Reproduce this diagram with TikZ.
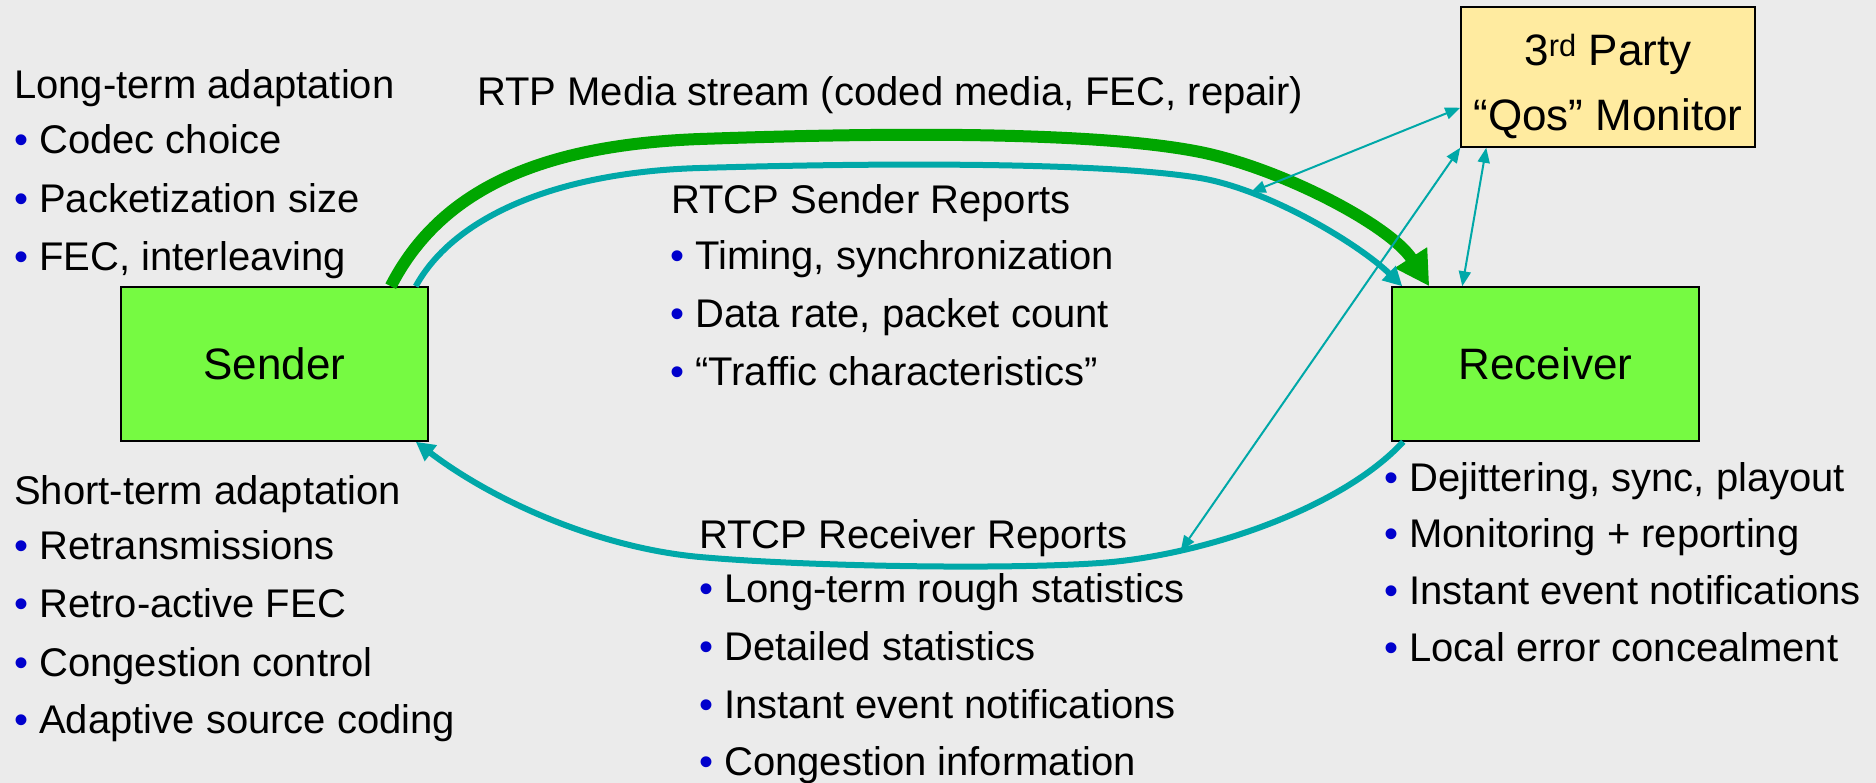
\documentclass[tikz,border=0pt]{standalone}
\usepackage{fontspec}
\setmainfont{Liberation Sans}
\usetikzlibrary{arrows.meta,calc}
\definecolor{bg}{RGB}{235,235,235}
\definecolor{boxgreen}{RGB}{118,250,66}
\definecolor{monyellow}{RGB}{255,235,160}
\definecolor{tealc}{RGB}{0,168,168}
\definecolor{arrowgreen}{RGB}{0,166,0}
\definecolor{bulblue}{RGB}{0,0,204}
\newcommand{\mybul}{\textcolor{bulblue}{•}}
\begin{document}
\begin{tikzpicture}[x=1pt,y=-1pt,
  txt/.style={anchor=base west,inner sep=0pt,font=\fontsize{40}{48}\selectfont},
  box/.style={draw=black,line width=1.5pt,fill=boxgreen,minimum width=307pt,minimum height=154pt,inner sep=0pt,font=\fontsize{44}{52}\selectfont},
  monbox/.style={draw=black,line width=1.5pt,fill=monyellow,minimum width=294pt,minimum height=140pt,inner sep=0pt,font=\fontsize{44}{65}\selectfont},
  greenarrow/.style={draw=arrowgreen,line width=12pt,-{Triangle[length=34pt,width=36pt]}},
  tealthick/.style={draw=tealc,line width=6pt,-{Triangle[length=19pt,width=19pt]}},
  thinarrow/.style={draw=tealc,line width=2pt,{Triangle[length=15pt,width=12pt]}-{Triangle[length=15pt,width=12pt]}}
]
\fill[bg] (0,0) rectangle (1876,783);
\useasboundingbox (0,0) rectangle (1876,783);

% boxes
\node[box] (sender) at (274.5,364) {Sender};
\node[box] (receiver) at (1545.5,364) {Receiver};
\node[monbox] (mon) at (1608,77) {\raisebox{-8pt}[\height][\depth]{\begin{tabular}{@{}c@{}}3\textsuperscript{rd} Party\\“Qos” Monitor\end{tabular}}};

% RTP media stream
\draw[greenarrow] ($(sender.north east)+(-38,0)$) .. controls (440,190) and (540,145) .. (700,139)
  .. controls (900,132) and (1100,132) .. (1200,152)
  .. controls (1280,168) and (1390,225) .. ($(receiver.north west)+(38,0)$);

% RTCP sender reports
\draw[tealthick] ($(sender.north east)+(-13,0)$) .. controls (455,215) and (560,172) .. (700,168)
  .. controls (900,162) and (1110,163) .. (1200,178)
  .. controls (1270,190) and (1360,245) .. ($(receiver.north west)+(11,0)$) coordinate[pos=0.23] (srpt);

% RTCP receiver reports
\draw[tealthick] ($(receiver.south west)+(12,0)$) .. controls (1340,510) and (1200,556) .. (1100,563) coordinate[pos=0.75] (rrpt)
  .. controls (1000,570) and (800,566) .. (700,557)
  .. controls (600,548) and (495,502) .. ($(sender.south east)+(-13,0)$);

% monitor links
\draw[thinarrow] (srpt) -- ($(mon.south west)+(0,-40)$);
\draw[thinarrow] (rrpt) -- (mon.south west);
\draw[thinarrow] ($(mon.south west)+(26,0)$) -- ($(receiver.north west)+(71,0)$);

% left top
\node[txt] (lt0) at (14,99) {Long-term adaptation};
\node[txt] (lt1) at (14,154) {\mybul{} Codec choice};
\node[txt] (lt2) at (14,213) {\mybul{} Packetization size};
\node[txt] (lt3) at (14,271) {\mybul{} FEC, interleaving};

% left bottom
\node[txt] (lb0) at (14,504) {Short-term adaptation};
\node[txt] (lb1) at (14,559) {\mybul{} Retransmissions};
\node[txt] (lb2) at (14,617) {\mybul{} Retro-active FEC};
\node[txt] (lb3) at (14,676) {\mybul{} Congestion control};
\node[txt] (lb4) at (14,733) {\mybul{} Adaptive source coding};

% middle top
\node[txt] (rtp) at (477,106) {RTP Media stream (coded media, FEC, repair)};
\node[txt] (sr0) at (671,214) {RTCP Sender Reports};
\node[txt] (sr1) at (670,270) {\mybul{} Timing, synchronization};
\node[txt] (sr2) at (670,328) {\mybul{} Data rate, packet count};
\node[txt] (sr3) at (670,385) {\mybul{} “Traffic characteristics”};

% middle bottom
\node[txt] (rr0) at (699,548) {RTCP Receiver Reports};
\node[txt] (rr1) at (699,602) {\mybul{} Long-term rough statistics};
\node[txt] (rr2) at (699,660) {\mybul{} Detailed statistics};
\node[txt] (rr3) at (699,718) {\mybul{} Instant event notifications};
\node[txt] (rr4) at (699,775) {\mybul{} Congestion information};

% right bottom
\node[txt] (rb1) at (1384,491) {\mybul{} Dejittering, sync, playout};
\node[txt] (rb2) at (1384,547) {\mybul{} Monitoring + reporting};
\node[txt] (rb3) at (1384,604) {\mybul{} Instant event notifications};
\node[txt] (rb4) at (1384,661) {\mybul{} Local error concealment};
\end{tikzpicture}
\end{document}
